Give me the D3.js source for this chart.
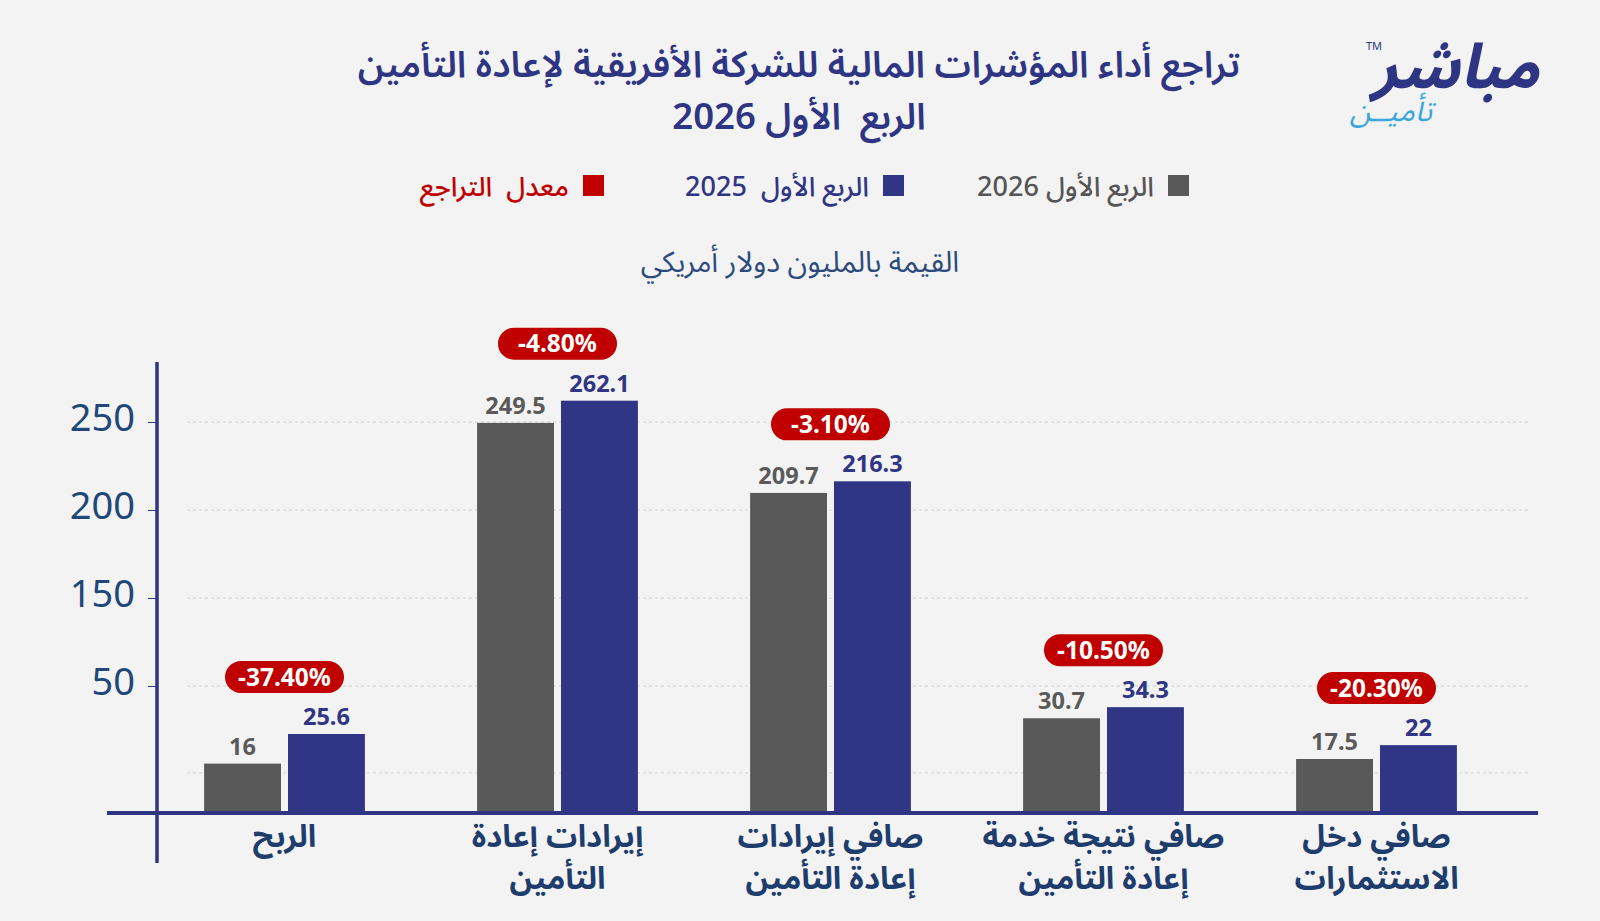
<!DOCTYPE html>
<html lang="ar">
<head>
<meta charset="utf-8">
<script src="https://cdn.jsdelivr.net/npm/d3@7"></script>
<style>
    html, body { margin: 0; padding: 0; background: #f3f3f3; }
    svg { display: block; }
    text { white-space: pre; }
    .ar { font-family: "Noto Sans Arabic", "Noto Naskh Arabic", "DejaVu Sans", sans-serif; }
    .num { font-family: "Noto Sans", "Open Sans", sans-serif; }
</style>
</head>
<body>
<div id="chart"></div>
<script>
// ============================================================
//  DATA
// ============================================================

const categoryLines = [
    ["الربح"],
    ["إيرادات إعادة", "التأمين"],
    ["صافي إيرادات", "إعادة التأمين"],
    ["صافي نتيجة خدمة", "إعادة التأمين"],
    ["صافي دخل", "الاستثمارات"]
];
const seriesNames = ["الربع الأول 2026", "الربع الأول  2025"];
const q1_2026 = [16, 249.5, 209.7, 30.7, 17.5];
const q1_2025 = [25.6, 262.1, 216.3, 34.3, 22];
const declineRates = [-37.4, -4.8, -3.1, -10.5, -20.3];
const declineName = "معدل  التراجع";
const yTickValues = [50, 150, 200, 250];
const gridValues = [13, 50, 150, 200, 250];

// ============================================================
//  CONFIGURATION
// ============================================================

const CONFIG = {
    WIDTH: 1600,
    HEIGHT: 921,

    // -- Colours -------------------------------------------
    GRAY: "#595959",
    BLUE: "#303585",
    RED: "#c00000",
    NAVY_TEXT: "#1e3d6d",
    AXIS: "#2e3583",
    GRID: "#cfcfcf",

    // -- Plot area -----------------------------------------
    X_RANGE: [148, 1513],
    BAND_PADDING_INNER: 0.411,
    BAR_GAP_RATIO: 7 / 84,
    // the drawing stretches the low values, so the scale is piecewise
    Y_DOMAIN: [0, 35, 50, 150, 250],
    Y_RANGE: [813, 705, 686, 598, 422],

    AXIS_X: 157,
    AXIS_TOP: 362,
    AXIS_BOTTOM: 863,
    BASE_LEFT: 107,
    BASE_RIGHT: 1538,
    GRID_LEFT: 187,
    GRID_RIGHT: 1531,

    BADGE_W: 119,
    BADGE_H: 32,
    BADGE_OFFSET: 57,
};

const svg = d3.select("#chart").append("svg")
    .attr("width", CONFIG.WIDTH)
    .attr("height", CONFIG.HEIGHT);

svg.append("rect")
    .attr("width", CONFIG.WIDTH)
    .attr("height", CONFIG.HEIGHT)
    .attr("fill", "#f3f3f3");

// --- Title ---
const title = svg.append("text")
    .attr("class", "ar")
    .attr("direction", "rtl")
    .attr("text-anchor", "middle")
    .attr("fill", CONFIG.AXIS)
    .style("font-size", "36.5px")
    .style("font-weight", "600");
title.append("tspan").attr("x", 799).attr("y", 77)
    .text("تراجع أداء المؤشرات المالية للشركة الأفريقية لإعادة التأمين");
title.append("tspan").attr("x", 799).attr("y", 129)
    .text("الربع  الأول 2026");

// --- Logo ---
const logo = svg.append("g");
logo.append("text")
    .attr("class", "ar")
    .attr("x", 1539).attr("y", 88)
    .attr("text-anchor", "end")
    .attr("fill", "#2e3583")
    .style("font-size", "62px")
    .style("font-weight", "bold")
    .style("font-style", "italic")
    .text("مباشر");
logo.append("text")
    .attr("x", 1366).attr("y", 50)
    .attr("fill", "#2e3583")
    .style("font-family", "Noto Sans, sans-serif")
    .style("font-size", "11px")
    .text("TM");
logo.append("text")
    .attr("class", "ar")
    .attr("x", 1391).attr("y", 121)
    .attr("text-anchor", "middle")
    .attr("fill", "#3aa6dc")
    .style("font-size", "30px")
    .style("font-style", "italic")
    .text("تأميــن");

// --- Legend ---
const legendItems = [
    { name: seriesNames[0], color: CONFIG.GRAY, x: 1189 },
    { name: seriesNames[1], color: CONFIG.BLUE, x: 904 },
    { name: declineName, color: CONFIG.RED, x: 604 },
];
const legend = svg.append("g");
legendItems.forEach(item => {
    legend.append("rect")
        .attr("x", item.x - 21).attr("y", 175)
        .attr("width", 21).attr("height", 21)
        .attr("fill", item.color);
    legend.append("text")
        .attr("class", "ar")
        .attr("direction", "rtl")
        .attr("x", item.x - 35).attr("y", 196)
        .attr("text-anchor", "start")
        .attr("fill", item.color === CONFIG.GRAY ? "#555" : item.color)
        .style("font-size", "27px")
        .style("font-weight", "500")
        .text(item.name);
});

// --- Unit subtitle ---
svg.append("text")
    .attr("class", "ar")
    .attr("direction", "rtl")
    .attr("x", 800).attr("y", 272)
    .attr("text-anchor", "middle")
    .attr("fill", "#2d4a7c")
    .style("font-size", "29px")
    .text("القيمة بالمليون دولار أمريكي");

// ============================================================
//  SCALES
// ============================================================

const idx = d3.range(categoryLines.length);

const x = d3.scaleBand()
    .domain(idx)
    .range(CONFIG.X_RANGE)
    .paddingInner(CONFIG.BAND_PADDING_INNER)
    .paddingOuter(CONFIG.BAND_PADDING_INNER / 2);

const xs = d3.scaleBand()
    .domain([0, 1])
    .range([0, x.bandwidth()])
    .paddingInner(CONFIG.BAR_GAP_RATIO);

const y = d3.scaleLinear()
    .domain(CONFIG.Y_DOMAIN)
    .range(CONFIG.Y_RANGE);

// --- Gridlines ---
svg.append("g")
    .selectAll("line")
    .data(gridValues)
    .join("line")
    .attr("x1", CONFIG.GRID_LEFT)
    .attr("x2", CONFIG.GRID_RIGHT)
    .attr("y1", d => y(d))
    .attr("y2", d => y(d))
    .attr("stroke", CONFIG.GRID)
    .attr("stroke-width", 1)
    .attr("stroke-dasharray", "3,3");

// --- Y axis ---
const yAxis = svg.append("g")
    .attr("transform", `translate(${CONFIG.AXIS_X},0)`)
    .call(d3.axisLeft(y).tickValues(yTickValues).tickSize(9).tickPadding(13));
yAxis.select(".domain").remove();
yAxis.selectAll(".tick line").attr("stroke", CONFIG.AXIS).attr("stroke-width", 1);
yAxis.selectAll(".tick text")
    .attr("class", "num")
    .attr("dy", "0.22em")
    .attr("fill", "#1f4778")
    .style("font-size", "38px");

// --- Bars ---
const series = [q1_2026, q1_2025];
const seriesColors = [CONFIG.GRAY, CONFIG.BLUE];
const valueColors = ["#5a5a5a", CONFIG.BLUE];

const groups = svg.append("g")
    .selectAll("g")
    .data(idx)
    .join("g")
    .attr("transform", i => `translate(${x(i)},0)`);

series.forEach((values, s) => {
    groups.append("rect")
        .attr("x", xs(s))
        .attr("y", i => y(values[i]))
        .attr("width", xs.bandwidth())
        .attr("height", i => y(0) - y(values[i]))
        .attr("fill", seriesColors[s]);

    groups.append("text")
        .attr("class", "num")
        .attr("x", xs(s) + xs.bandwidth() / 2)
        .attr("y", i => y(values[i]) - 9)
        .attr("text-anchor", "middle")
        .attr("fill", valueColors[s])
        .style("font-size", "23.5px")
        .style("font-weight", "bold")
        .text(i => values[i]);
});

// --- Decline badges ---
const badge = groups.append("g")
    .attr("transform", i => {
        const top = y(Math.max(q1_2026[i], q1_2025[i]));
        return `translate(${x.bandwidth() / 2},${top - CONFIG.BADGE_OFFSET})`;
    });
badge.append("rect")
    .attr("x", -CONFIG.BADGE_W / 2)
    .attr("y", -CONFIG.BADGE_H / 2)
    .attr("width", CONFIG.BADGE_W)
    .attr("height", CONFIG.BADGE_H)
    .attr("rx", CONFIG.BADGE_H / 2)
    .attr("fill", CONFIG.RED);
badge.append("text")
    .attr("class", "num")
    .attr("y", 8.5)
    .attr("text-anchor", "middle")
    .attr("fill", "#fff")
    .style("font-size", "24.5px")
    .style("font-weight", "bold")
    .text(i => declineRates[i].toFixed(2) + "%");

// --- Category labels ---
groups.append("text")
    .attr("class", "ar")
    .attr("direction", "rtl")
    .attr("text-anchor", "middle")
    .attr("fill", CONFIG.NAVY_TEXT)
    .style("font-size", "31px")
    .style("font-weight", "bold")
    .selectAll("tspan")
    .data(i => categoryLines[i])
    .join("tspan")
    .attr("x", x.bandwidth() / 2)
    .attr("y", (d, j) => 847 + j * 42)
    .text(d => d);

// --- Axis lines ---
svg.append("line")
    .attr("x1", CONFIG.AXIS_X).attr("x2", CONFIG.AXIS_X)
    .attr("y1", CONFIG.AXIS_TOP).attr("y2", CONFIG.AXIS_BOTTOM)
    .attr("stroke", CONFIG.AXIS)
    .attr("stroke-width", 3.5);

svg.append("line")
    .attr("x1", CONFIG.BASE_LEFT).attr("x2", CONFIG.BASE_RIGHT)
    .attr("y1", y(0)).attr("y2", y(0))
    .attr("stroke", CONFIG.AXIS)
    .attr("stroke-width", 4);
</script>
</body>
</html>
